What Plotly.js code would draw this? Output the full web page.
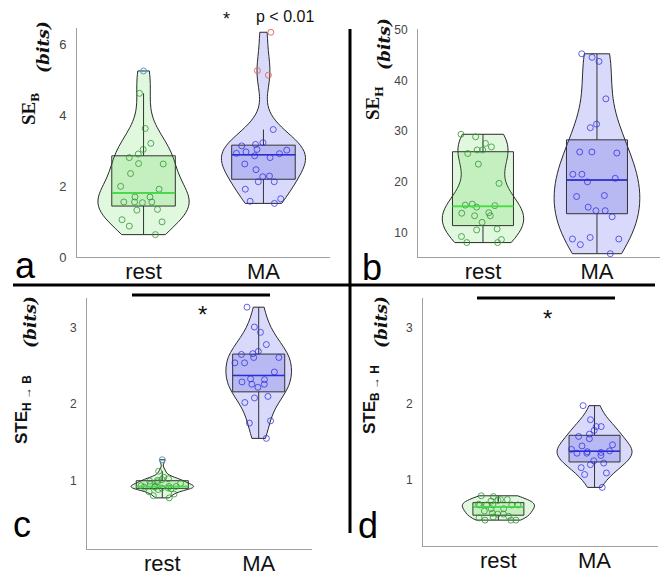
<!DOCTYPE html>
<html><head><meta charset="utf-8">
<script src="https://cdn.plot.ly/plotly-3.0.1.min.js"></script>
<style>html,body{margin:0;padding:0;background:#fff}#chart{width:665px;height:576px}</style>
</head><body><div id="chart"></div>
<script>
// ---------------- DATA ----------------
const categories = ['rest', 'MA'];
const catPos = [1, 2];

// Panel a: SE_B (bits)
const seBRest = [4.61, 3.62, 3.20, 3.03, 2.90, 2.80, 2.63, 2.62, 2.35, 1.99, 1.91, 1.69, 1.69, 1.55, 1.55, 1.55, 1.53, 1.34, 1.32, 1.05, 0.99, 0.87, 0.63];
const seBRestOut = [5.24];
const seBMA = [3.59, 3.22, 3.17, 3.13, 3.03, 3.01, 2.96, 2.92, 2.91, 2.85, 2.80, 2.62, 2.46, 2.28, 2.26, 2.12, 2.12, 1.91, 1.64, 1.57, 1.51];
const seBMAOut = [6.33, 5.25, 5.12];

// Panel b: SE_H (bits)
const seHRest = [29.4, 28.9, 27.6, 26.9, 26.3, 26.3, 25.6, 23.5, 19.7, 15.6, 15.4, 15.3, 15.0, 13.9, 13.8, 13.3, 13.3, 12.0, 10.7, 10.5, 9.2, 8.6, 8.0, 8.0];
const seHRestOut = [];
const seHMA = [45.3, 44.6, 43.8, 36.4, 31.4, 30.7, 25.9, 25.9, 25.7, 21.5, 21.5, 20.7, 20.0, 17.3, 17.1, 15.0, 14.3, 14.3, 13.1, 9.0, 8.7, 8.7, 7.6, 5.8];
const seHMAOut = [];

// Panel c: STE H->B (bits)
const steHBRest = [1.12, 1.04, 1.02, 1.01, 1.00, 0.99, 0.98, 0.96, 0.95, 0.93, 0.92, 0.92, 0.92, 0.91, 0.91, 0.90, 0.90, 0.89, 0.88, 0.85, 0.82, 0.80, 0.77];
const steHBRestOut = [1.27];
const steHBMA = [3.27, 3.01, 2.94, 2.78, 2.69, 2.66, 2.65, 2.61, 2.61, 2.54, 2.54, 2.42, 2.33, 2.32, 2.29, 2.26, 2.26, 2.22, 2.10, 2.08, 2.02, 1.78, 1.75, 1.55];
const steHBMAOut = [];

// Panel d: STE B->H (bits)
const steBHRest = [0.79, 0.78, 0.74, 0.74, 0.73, 0.72, 0.68, 0.67, 0.67, 0.67, 0.67, 0.67, 0.62, 0.62, 0.59, 0.56, 0.55, 0.55, 0.52, 0.51, 0.50, 0.47, 0.47, 0.47];
const steBHRestOut = [];
const steBHMA = [1.975, 1.79, 1.70, 1.70, 1.65, 1.60, 1.57, 1.54, 1.46, 1.445, 1.40, 1.38, 1.37, 1.36, 1.35, 1.35, 1.32, 1.25, 1.22, 1.20, 1.16, 1.09, 1.07, 0.90];
const steBHMAOut = [];

// ---------------- STYLE ----------------
const W = 665, H = 576;
const px = x => x / W, py = y => 1 - y / H;

const styleRest = {
  violinFill: 'rgba(70,215,60,0.17)', boxFill: 'rgba(60,200,50,0.17)',
  point: 'rgba(50,150,50,0.8)', median: '#44e044'
};
const styleMA = {
  violinFill: 'rgba(95,95,240,0.24)', boxFill: 'rgba(70,70,215,0.22)',
  point: 'rgba(45,45,225,0.75)', median: '#2d2de0'
};

const panels = [
  { xa: 'x', ya: 'y', groups: [
      { y: seBRest, out: seBRestOut, st: styleRest, vw: 0.76, bw: 0.53, bwk: 0.55, outColor: 'rgba(70,150,215,0.95)' },
      { y: seBMA, out: seBMAOut, st: styleMA, vw: 0.70, bw: 0.53, bwk: 0.52, outColor: 'rgba(225,105,95,0.95)' } ],
    xdom: [px(77), px(330)], ydom: [py(257), py(28)], xr: [0.445, 2.555], yr: [0, 6.45], dtick: 2, tfs: 13 },
  { xa: 'x2', ya: 'y2', groups: [
      { y: seHRest, out: seHRestOut, st: styleRest, vw: 0.71, bw: 0.535, bwk: 0, outColor: '#4a96d8' },
      { y: seHMA, out: seHMAOut, st: styleMA, vw: 0.75, bw: 0.535, bwk: 0, outColor: '#e06a60' } ],
    xdom: [px(418), px(660)], ydom: [py(257), py(29)], xr: [0.43, 2.553], yr: [5.15, 50.2], dtick: 10, tfs: 12 },
  { xa: 'x3', ya: 'y3', groups: [
      { y: steHBRest, out: steHBRestOut, st: styleRest, vw: 0.65, bw: 0.54, bwk: 0, outColor: 'rgba(80,150,215,0.95)' },
      { y: steHBMA, out: steHBMAOut, st: styleMA, vw: 0.68, bw: 0.54, bwk: 0, outColor: '#e06a60' } ],
    xdom: [px(87), px(312)], ydom: [py(549), py(298)], xr: [0.219, 2.553], yr: [0.10, 3.39], dtick: 1, tfs: 12 },
  { xa: 'x4', ya: 'y4', groups: [
      { y: steBHRest, out: steBHRestOut, st: styleRest, vw: 0.75, bw: 0.53, bwk: 0.075, outColor: '#4a96d8' },
      { y: steBHMA, out: steBHMAOut, st: styleMA, vw: 0.78, bw: 0.53, bwk: 0, outColor: '#e06a60' } ],
    xdom: [px(423), px(658)], ydom: [py(546), py(298)], xr: [0.216, 2.66], yr: [0.13, 3.39], dtick: 1, tfs: 12 }
];

function median(arr) {
  const s = arr.slice().sort((a, b) => a - b);
  const m = Math.floor(s.length / 2);
  return s.length % 2 ? s[m] : (s[m - 1] + s[m]) / 2;
}

const traces = [];
panels.forEach(p => {
  p.groups.forEach((g, i) => {
    const pos = catPos[i];
    const all = g.y.concat(g.out);
    // violin outline
    const v = {
      type: 'violin', xaxis: p.xa, yaxis: p.ya, x0: pos, y: all, width: g.vw,
      spanmode: 'hard', points: false, box: { visible: false }, meanline: { visible: false },
      fillcolor: g.st.violinFill, line: { color: '#2a2a2a', width: 1 }, hoverinfo: 'skip'
    };
    if (g.bwk) v.bandwidth = g.bwk;
    traces.push(v);
    // box + whiskers + outliers
    traces.push({
      type: 'box', xaxis: p.xa, yaxis: p.ya, x0: pos, y: all, width: g.bw,
      boxpoints: 'outliers', jitter: 0.3, pointpos: 0, whiskerwidth: 0,
      fillcolor: g.st.boxFill, line: { color: '#333333', width: 1 },
      marker: { symbol: 'circle-open', size: 6, color: g.outColor, line: { width: 1 } },
      hoverinfo: 'skip'
    });
    // jittered inlier points
    traces.push({
      type: 'box', xaxis: p.xa, yaxis: p.ya, x0: pos, y: g.y, width: g.bw,
      boxpoints: 'all', jitter: 0.95, pointpos: 0, whiskerwidth: 0,
      fillcolor: 'rgba(0,0,0,0)', line: { color: 'rgba(0,0,0,0)', width: 0 },
      marker: { symbol: 'circle-open', size: 6, color: g.st.point, line: { width: 1 } },
      hoverinfo: 'skip'
    });
    // coloured median line
    const med = median(all);
    traces.push({
      type: 'scatter', mode: 'lines', xaxis: p.xa, yaxis: p.ya,
      x: [pos - g.bw / 2, pos + g.bw / 2], y: [med, med],
      line: { color: g.st.median, width: 1.6 }, hoverinfo: 'skip'
    });
  });
});

const layout = {
  width: W, height: H, margin: { l: 0, r: 0, t: 0, b: 0 },
  paper_bgcolor: '#ffffff', plot_bgcolor: 'rgba(0,0,0,0)',
  showlegend: false, boxmode: 'overlay', violinmode: 'overlay',
  font: { family: 'Liberation Sans, Arial, sans-serif', color: '#111' },
  shapes: [
    { type: 'line', xref: 'paper', yref: 'paper', x0: px(13), x1: px(655), y0: py(285), y1: py(285), line: { color: '#000', width: 3 } },
    { type: 'line', xref: 'paper', yref: 'paper', x0: px(350), x1: px(350), y0: py(29), y1: py(533), line: { color: '#000', width: 3 } },
    { type: 'line', xref: 'paper', yref: 'paper', x0: px(132), x1: px(270), y0: py(295), y1: py(295), line: { color: '#000', width: 3 } },
    { type: 'line', xref: 'paper', yref: 'paper', x0: px(477), x1: px(615), y0: py(298), y1: py(298), line: { color: '#000', width: 3 } }
  ],
  annotations: []
};

panels.forEach((p, k) => {
  const n = k === 0 ? '' : String(k + 1);
  layout['xaxis' + n] = {
    domain: p.xdom, range: p.xr, anchor: p.ya, tickvals: catPos, ticktext: categories,
    showline: true, linecolor: '#a0a0a0', linewidth: 1, showgrid: false, zeroline: false,
    ticks: '', ticklabelstandoff: -5,
    tickfont: { family: 'Liberation Sans, Arial, sans-serif', size: 22, color: '#111' }, fixedrange: true
  };
  layout['yaxis' + n] = {
    domain: p.ydom, range: p.yr, anchor: p.xa, dtick: p.dtick, tick0: 0,
    showline: true, linecolor: '#a0a0a0', linewidth: 1, showgrid: false, zeroline: false,
    ticks: 'outside', ticklen: 7, tickcolor: 'rgba(0,0,0,0)',
    tickfont: { family: 'Liberation Sans, Arial, sans-serif', size: p.tfs, color: '#444' }, fixedrange: true
  };
});

function ann(x, y, text, font, extra) {
  layout.annotations.push(Object.assign({
    xref: 'paper', yref: 'paper', x: px(x), y: py(y), text: text, showarrow: false,
    xanchor: 'center', yanchor: 'middle', font: font
  }, extra || {}));
}
const lbl = { family: 'Liberation Sans, Arial, sans-serif', size: 36, color: '#000' };
ann(25.5, 265, 'a', lbl); ann(371.5, 267, 'b', lbl);
ann(21.5, 524, 'c', lbl); ann(368, 525, 'd', lbl);

const serifB = { family: 'Liberation Serif, Times New Roman, serif', size: 19, color: '#111' };
const bitsF = { family: 'DejaVu Serif, serif', size: 17, color: '#111' };
const sansB = { family: 'Liberation Sans, Arial, sans-serif', size: 17, color: '#111' };
ann(30, 109, '<b>SE<sub>B</sub></b>', serifB, { textangle: -90 });
ann(43, 47, '<b><i>(bits)</i></b>', bitsF, { textangle: -90 });
ann(374, 103, '<b>SE<sub>H</sub></b>', serifB, { textangle: -90 });
ann(384, 44, '<b><i>(bits)</i></b>', bitsF, { textangle: -90 });
ann(23, 410, '<b>STE<sub>H → B</sub></b>', sansB, { textangle: -90 });
ann(30, 322, '<b><i>(bits)</i></b>', bitsF, { textangle: -90 });
ann(371, 400, '<b>STE<sub>B → H</sub></b>', sansB, { textangle: -90 });
ann(381, 322, '<b><i>(bits)</i></b>', bitsF, { textangle: -90 });

ann(226, 19, '*', { family: 'Liberation Sans, Arial, sans-serif', size: 18, color: '#111' });
ann(285, 16, 'p &lt; 0.01', { family: 'Liberation Sans, Arial, sans-serif', size: 16, color: '#111' });
ann(202, 314, '*', { family: 'Liberation Sans, Arial, sans-serif', size: 24, color: '#111' });
ann(547, 318, '*', { family: 'Liberation Sans, Arial, sans-serif', size: 24, color: '#111' });

Plotly.newPlot('chart', traces, layout, { staticPlot: true, displayModeBar: false });
</script>
</body></html>
